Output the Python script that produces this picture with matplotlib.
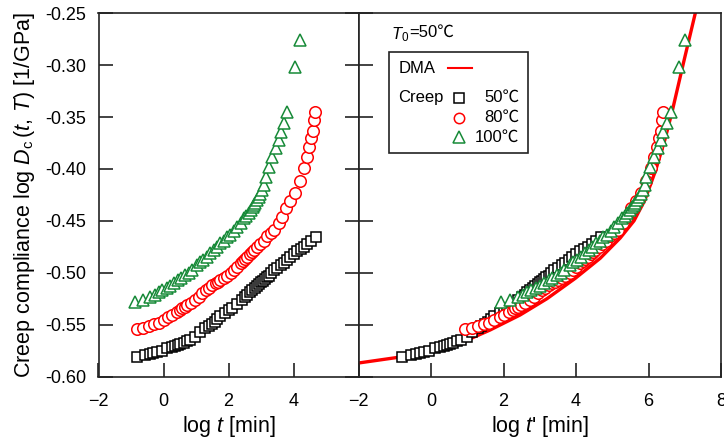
import numpy as np
import matplotlib
matplotlib.use("Agg")
import matplotlib.pyplot as plt
from matplotlib.patches import Rectangle
from matplotlib.lines import Line2D

plt.rcParams['font.family'] = ['Liberation Sans', 'Noto Sans CJK JP']
plt.rcParams['mathtext.fontset'] = 'custom'
plt.rcParams['mathtext.rm'] = 'Liberation Sans'
plt.rcParams['mathtext.it'] = 'Liberation Sans:italic'

# creep data: log t [min] and log Dc [1/GPa] at each test temperature
t50 = [-0.81, -0.56, -0.41, -0.31, -0.20, -0.05, 0.10, 0.26, 0.36, 0.45, 0.52, 0.62,
       0.72, 0.82, 0.98, 1.13, 1.29, 1.39, 1.49, 1.58, 1.65, 1.75, 1.90, 2.02, 2.11,
       2.26, 2.40, 2.50, 2.58, 2.65, 2.73, 2.80, 2.87, 2.94, 3.00, 3.06, 3.12, 3.18,
       3.25, 3.32, 3.40, 3.50, 3.60, 3.70, 3.80, 3.90, 4.01, 4.12, 4.22, 4.32, 4.43,
       4.55, 4.68]
d50 = [-0.581, -0.579, -0.578, -0.577, -0.576, -0.575, -0.573, -0.572, -0.571, -0.570,
       -0.569, -0.568, -0.566, -0.565, -0.562, -0.557, -0.553, -0.551, -0.549, -0.547,
       -0.545, -0.542, -0.539, -0.536, -0.534, -0.530, -0.526, -0.523, -0.521, -0.519,
       -0.517, -0.515, -0.513, -0.511, -0.509, -0.508, -0.506, -0.504, -0.503, -0.500,
       -0.497, -0.495, -0.493, -0.491, -0.488, -0.485, -0.482, -0.479, -0.477, -0.475,
       -0.472, -0.469, -0.466]

t80 = [-0.82, -0.62, -0.45, -0.30, -0.15, 0.00, 0.15, 0.26, 0.41, 0.50, 0.57, 0.65,
       0.72, 0.85, 0.98, 1.10, 1.19, 1.30, 1.39, 1.50, 1.60, 1.68, 1.75, 1.85, 1.96,
       2.08, 2.16, 2.25, 2.37, 2.45, 2.50, 2.57, 2.65, 2.72, 2.78, 2.88, 2.98, 3.08,
       3.19, 3.30, 3.40, 3.55, 3.65, 3.76, 3.90, 4.04, 4.19, 4.32, 4.40, 4.48, 4.55,
       4.59, 4.63, 4.66]
d80 = [-0.5545, -0.553, -0.551, -0.5495, -0.548, -0.5456, -0.543, -0.541, -0.538,
       -0.536, -0.534, -0.533, -0.531, -0.529, -0.526, -0.523, -0.520, -0.517, -0.515,
       -0.512, -0.510, -0.509, -0.507, -0.505, -0.503, -0.500, -0.497, -0.494, -0.491,
       -0.489, -0.487, -0.485, -0.482, -0.480, -0.478, -0.475, -0.472, -0.469, -0.465,
       -0.462, -0.459, -0.452, -0.446, -0.438, -0.431, -0.4235, -0.412, -0.399, -0.388,
       -0.379, -0.370, -0.363, -0.353, -0.345]

t100 = [-0.87, -0.62, -0.41, -0.26, -0.15, -0.05, 0.10, 0.20, 0.31, 0.46, 0.55, 0.67,
        0.78, 0.88, 1.03, 1.12, 1.23, 1.33, 1.44, 1.55, 1.65, 1.75, 1.85, 1.95, 2.06,
        2.16, 2.26, 2.37, 2.47, 2.55, 2.62, 2.68, 2.74, 2.79, 2.83, 2.88, 2.93, 2.98,
        3.04, 3.09, 3.14, 3.24, 3.35, 3.45, 3.55, 3.60, 3.70, 3.81, 4.04, 4.20]
d100 = [-0.528, -0.526, -0.523, -0.5215, -0.519, -0.517, -0.515, -0.513, -0.510, -0.507,
        -0.505, -0.502, -0.500, -0.4974, -0.4926, -0.490, -0.4878, -0.485, -0.4813,
        -0.478, -0.4749, -0.4716, -0.469, -0.466, -0.4636, -0.460, -0.4556, -0.452,
        -0.4476, -0.445, -0.442, -0.4396, -0.437, -0.435, -0.433, -0.430, -0.4267,
        -0.424, -0.4203, -0.4155, -0.4075, -0.3978, -0.3882, -0.3801, -0.3721, -0.3641,
        -0.356, -0.3448, -0.3015, -0.2757]

# horizontal shift log aT to the reference temperature T0 = 50 C
shift = {50: 0.0, 80: 1.75, 100: 2.8}

# DMA master curve
dma_t = [-2.0, -1.0, 0.0, 0.8, 1.63, 2.46, 3.2, 3.98, 4.67, 5.22, 5.6, 5.9, 6.2,
         6.45, 6.65, 6.97, 7.29]
dma_d = [-0.587, -0.582, -0.5761, -0.568, -0.5552, -0.5407, -0.525, -0.5054, -0.486,
         -0.4665, -0.450, -0.430, -0.401, -0.372, -0.345, -0.297, -0.250]

GREEN = '#178a38'
series = [(50, t50, d50, 's', 'black', 7.3),
          (80, t80, d80, 'o', 'red', 8.3),
          (100, t100, d100, '^', GREEN, 8.8)]

W, H = 724, 443
fig = plt.figure(figsize=(W / 100, H / 100), dpi=100)
bot, top = 376.5, 13.3
axL = fig.add_axes([98.5 / W, 1 - bot / H, (358.5 - 98.5) / W, (bot - top) / H])
axR = fig.add_axes([358.5 / W, 1 - bot / H, (721 - 358.5) / W, (bot - top) / H])

axR.plot(dma_t, dma_d, color='red', lw=2.4, zorder=2)
for T, t, d, m, c, ms in series:
    axL.plot(t, d, ls='none', marker=m, ms=ms, mfc='white', mec=c, mew=1.1, zorder=3)
    axR.plot(np.array(t) + shift[T], d, ls='none', marker=m, ms=ms, mfc='white',
             mec=c, mew=1.1, zorder=3)

yt = np.arange(-0.60, -0.249, 0.05)
for ax in (axL, axR):
    ax.set_ylim(-0.60, -0.25)
    ax.set_yticks(yt)
    for sp in ax.spines.values():
        sp.set_linewidth(1.2)
        sp.set_color('#222222')
    ax.tick_params(direction='in', length=10, width=1.2, color='#222222',
                   labelsize=13, top=False)

axL.set_xlim(-2, 6)
axL.set_xticks([-2, 0, 2, 4])
axL.tick_params(axis='y', right=True, pad=9)
axL.tick_params(axis='x', pad=12)
axL.set_yticklabels([f'{v:.2f}' for v in yt])

axR.set_xlim(-2, 8)
axR.set_xticks([-2, 0, 2, 4, 6, 8])
axR.tick_params(axis='y', labelleft=False, right=False)
axR.tick_params(axis='x', pad=12)

axL.set_xlabel(r'log $t$ [min]', fontsize=15.5, labelpad=3)
axR.set_xlabel(r"log $t$' [min]", fontsize=15.5, labelpad=3)
axL.set_ylabel(r'Creep compliance log $D_\mathrm{c}\,(t,\,T)$ [1/GPa]', fontsize=15.5,
               labelpad=6)

# legend panel
tr = axR.transAxes
t0 = axR.text(0.09, 0.942, r'$T_0$', transform=tr, fontsize=12, va='center')
axR.annotate('=50℃', xy=(1, 0.5), xycoords=t0, xytext=(0, 1.5),
             textcoords='offset points', fontsize=12, va='center', ha='left')
axR.add_patch(Rectangle((0.085, 0.615), 0.383, 0.278, transform=tr, fill=False,
                        lw=1.2, ec='#222222', zorder=5))
axR.text(0.110, 0.849, 'DMA', transform=tr, fontsize=12, va='center')
axR.add_line(Line2D([0.248, 0.314], [0.849, 0.849], transform=tr, color='red', lw=1.5))
axR.text(0.110, 0.768, 'Creep', transform=tr, fontsize=12, va='center')
for (T, t, d, m, c, ms), yy in zip(series, [0.768, 0.713, 0.660]):
    axR.add_line(Line2D([0.278], [yy], transform=tr, ls='none', marker=m, ms=ms * 0.9,
                        mfc='white', mec=c, mew=1.1))
    axR.text(0.444, yy, f'{T}℃', transform=tr, fontsize=12, va='center', ha='right')

fig.savefig('out.png', dpi=100, facecolor='white')
